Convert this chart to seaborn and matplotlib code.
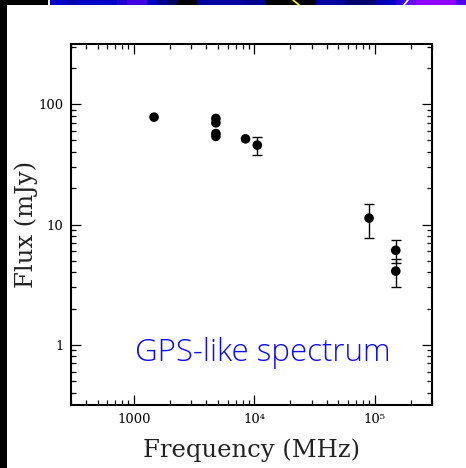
import matplotlib
matplotlib.use('Agg')
import matplotlib.pyplot as plt
import numpy as np
import pandas as pd
import seaborn as sns
from matplotlib.patches import Rectangle
from matplotlib.lines import Line2D
from matplotlib.ticker import FixedLocator, FixedFormatter, LogLocator, NullFormatter

# ---- data ----
freq_mhz = [1470, 4800, 4800, 4800, 4800, 8460, 10600, 90000, 150000, 150000]
flux_mjy = [78, 76, 70, 57, 54, 51.5, 45.7, 11.3, 6.1, 4.1]
flux_err = [0, 0, 0, 0, 0, 0, 8.0, 3.6, 1.3, 1.1]
x_ticks = [1000, 10000, 100000]
x_tick_labels = ['1000', '10⁴', '10⁵']
y_ticks = [1, 10, 100]
y_tick_labels = ['1', '10', '100']
annotation = 'GPS-like spectrum'

sns.set_theme(style='ticks')
plt.rcParams['font.family'] = ['DejaVu Serif']

W, H = 466, 468
fig = plt.figure(figsize=(W / 100, H / 100), dpi=100)
fig.patch.set_facecolor('white')

# decorative slide remnants: black left strip and coloured top strip
fig.add_artist(Rectangle((0, 0), 7 / W, 1, transform=fig.transFigure,
                         facecolor='black', edgecolor='none', zorder=0))
strip = [(0, 48, '#000000'), (48, 50, '#ffffff'), (50, 67, '#0000c8'), (67, 77, '#0000b0'),
         (77, 117, '#0000c8'), (117, 127, '#2000d0'), (127, 147, '#4000e0'),
         (147, 157, '#0000c0'), (157, 167, '#000090'), (167, 177, '#000060'),
         (177, 197, '#000000'), (197, 246, '#0000a0'), (246, 266, '#000090'),
         (266, 316, '#000000'), (316, 346, '#0000a0'), (346, 376, '#000070'),
         (376, 386, '#0000b0'), (386, 396, '#0000c0'), (396, 406, '#3000e0'),
         (406, 416, '#6010f0'), (416, 456, '#9000ff'), (456, 466, '#5000e8')]
for x0, x1, c in strip:
    fig.add_artist(Rectangle((x0 / W, 1 - 5 / H), (x1 - x0) / W, 5 / H,
                             transform=fig.transFigure, facecolor=c,
                             edgecolor='none', zorder=0))
fig.add_artist(Line2D([293 / W, 299 / W], [1, 1 - 5 / H], transform=fig.transFigure,
                      color='#ffff00', lw=1.2))
fig.add_artist(Line2D([408 / W, 404 / W], [1, 1 - 5 / H], transform=fig.transFigure,
                      color='#ffffff', lw=1.2))

ax = fig.add_axes([71 / W, 1 - 405 / H, 361 / W, 361 / H])
ax.set_facecolor('white')

df = pd.DataFrame({'freq': freq_mhz, 'flux': flux_mjy, 'err': flux_err})
ax.set_xscale('log')
ax.set_yscale('log')

sub = df[df['err'] > 0]
ax.errorbar(sub['freq'], sub['flux'], yerr=sub['err'], fmt='none', ecolor='black',
            elinewidth=1.0, capsize=3.4, capthick=1.0, zorder=2)
sns.scatterplot(data=df, x='freq', y='flux', ax=ax, color='black', s=48,
                edgecolor='none', legend=False, zorder=3)

ax.set_xlim(300, 300000)
ax.set_ylim(10 ** -0.5, 10 ** 2.5)

ax.xaxis.set_major_locator(FixedLocator(x_ticks))
ax.xaxis.set_major_formatter(FixedFormatter(x_tick_labels))
ax.yaxis.set_major_locator(FixedLocator(y_ticks))
ax.yaxis.set_major_formatter(FixedFormatter(y_tick_labels))
ax.xaxis.set_minor_locator(LogLocator(base=10, subs=np.arange(2, 10), numticks=20))
ax.yaxis.set_minor_locator(LogLocator(base=10, subs=np.arange(2, 10), numticks=20))
ax.xaxis.set_minor_formatter(NullFormatter())
ax.yaxis.set_minor_formatter(NullFormatter())

ax.tick_params(which='both', direction='in', top=True, right=True, color='black',
               width=0.9, labelsize=9.5, pad=5.5, labelcolor='black')
ax.tick_params(which='major', length=7.2)
ax.tick_params(which='minor', length=3.6)
for s in ax.spines.values():
    s.set_linewidth(1.5)
    s.set_color('black')

ax.set_xlabel('Frequency (MHz)', fontsize=17.5, labelpad=9, color='#222222')
ax.set_ylabel('Flux (mJy)', fontsize=17.5, labelpad=0, color='#222222')
ax.grid(False)

ax.text((135 - 71) / 361, (405 - 360.7) / 361, annotation, transform=ax.transAxes,
        fontsize=22.5, color='#0a0aff', family=['Open Sans', 'DejaVu Sans'],
        fontweight='light', ha='left', va='baseline')

fig.savefig('out.png', dpi=100, facecolor='white')
